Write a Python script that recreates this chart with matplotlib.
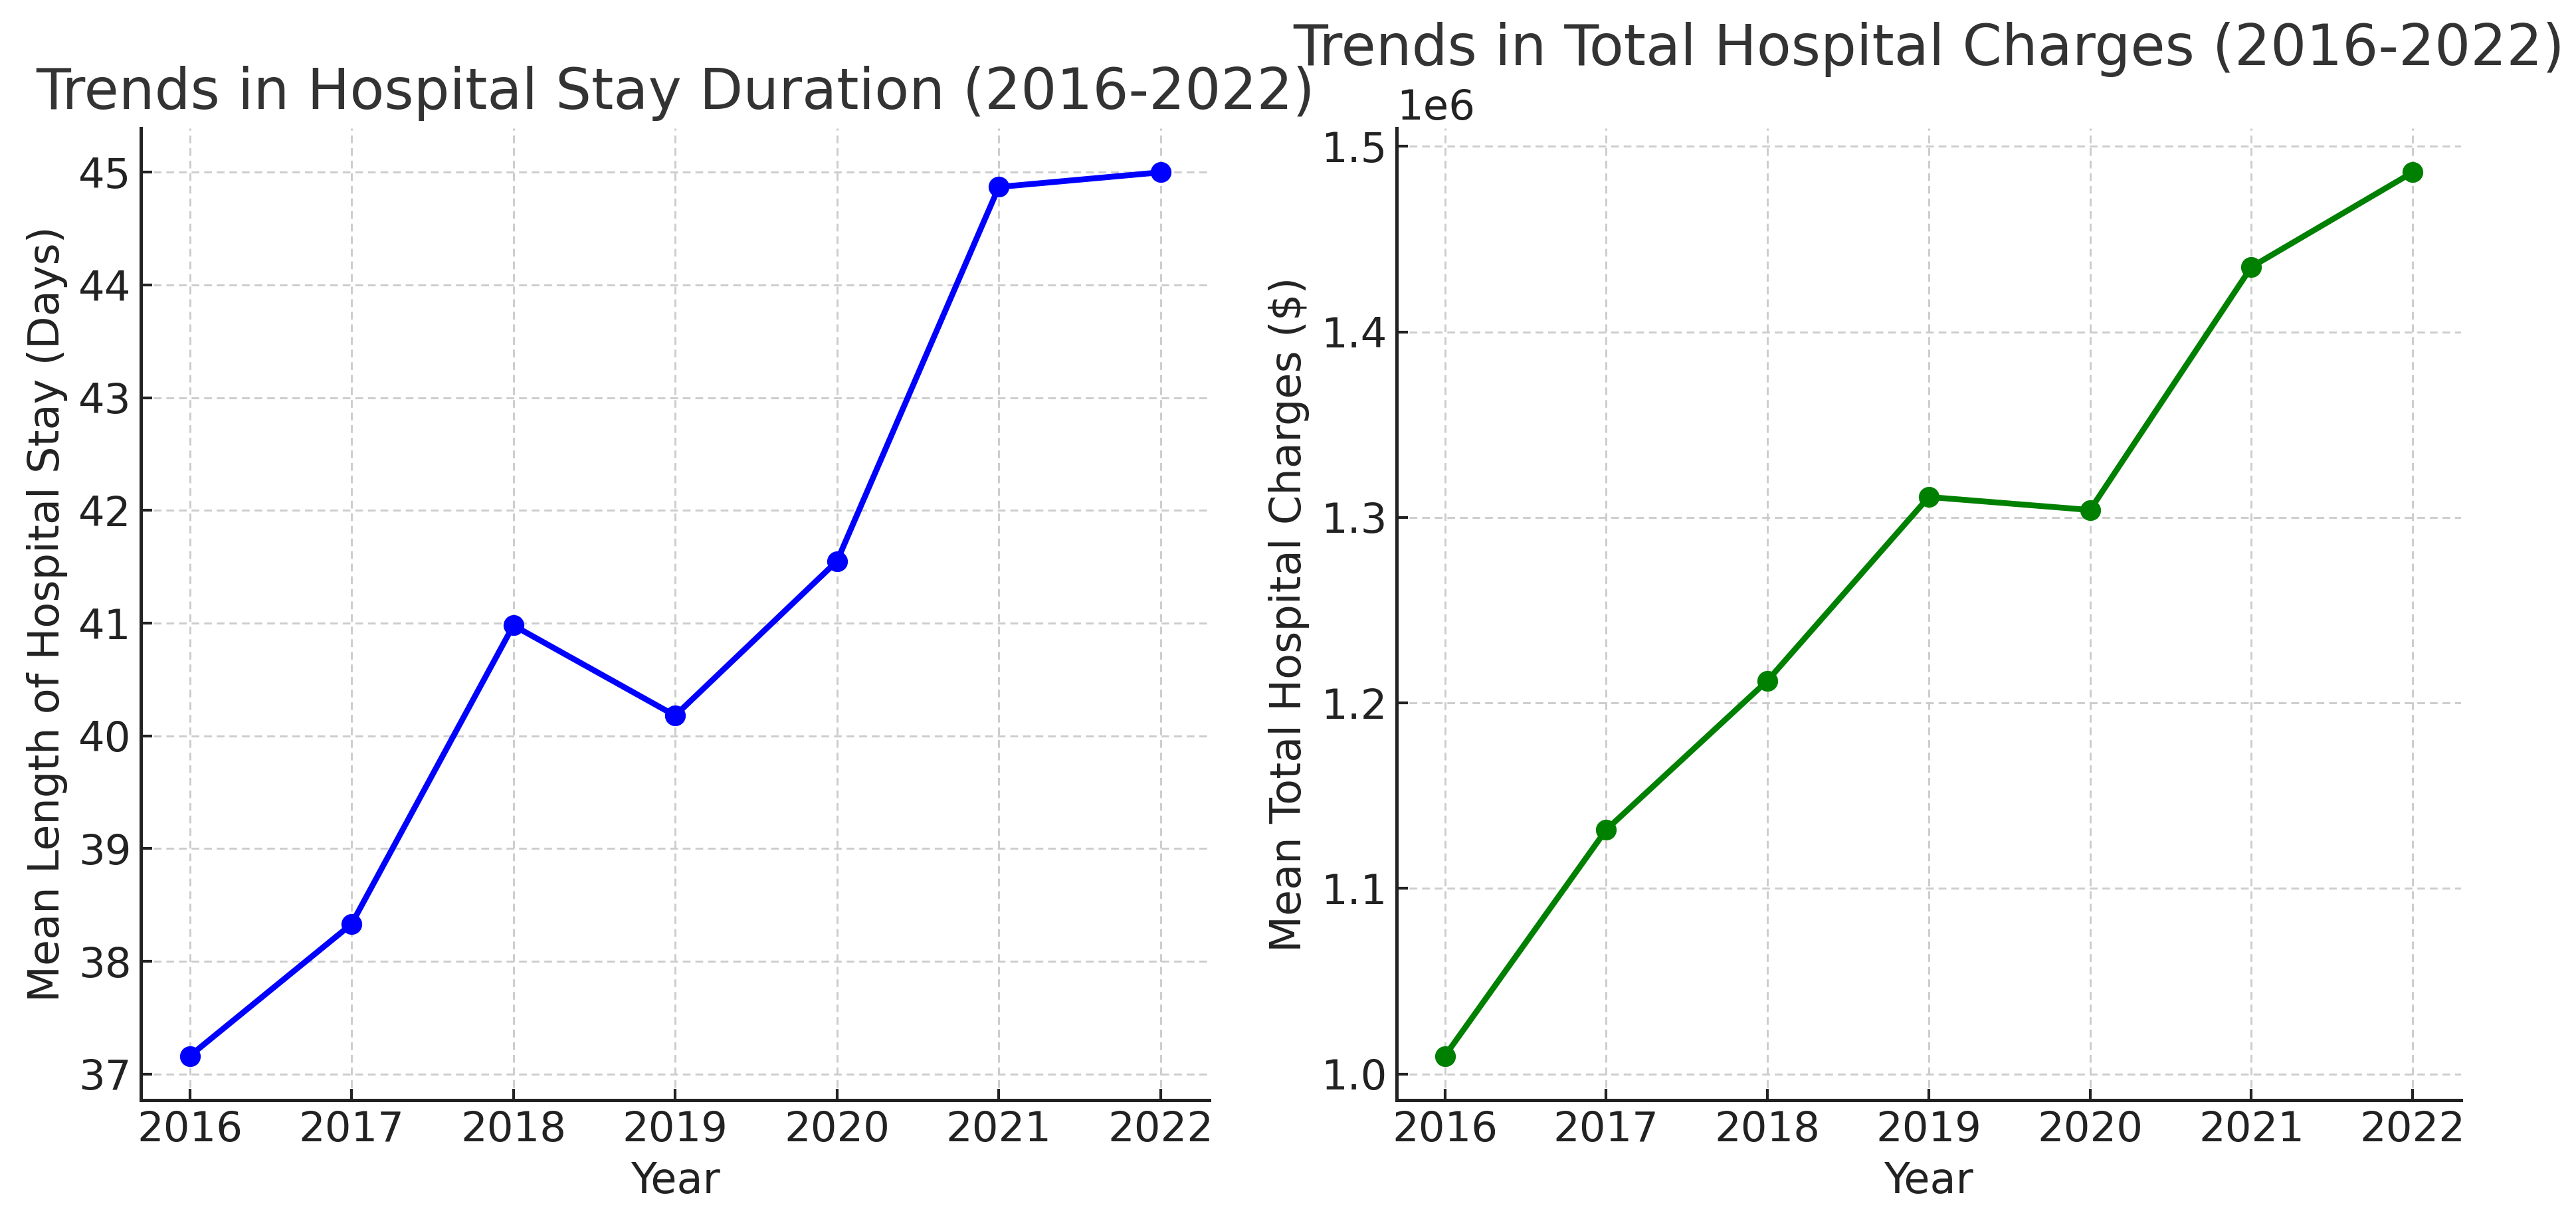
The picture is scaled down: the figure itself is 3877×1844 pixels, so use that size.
import matplotlib.pyplot as plt

# data
years = [2016, 2017, 2018, 2019, 2020, 2021, 2022]
mean_stay_days = [37.16, 38.33, 40.98, 40.18, 41.55, 44.87, 45.0]
mean_charges = [1.0097e6, 1.1316e6, 1.212e6, 1.311e6, 1.304e6, 1.435e6, 1.486e6]

plt.rcParams['font.family'] = 'DejaVu Sans'
plt.rcParams['text.color'] = '#333333'
plt.rcParams['axes.labelcolor'] = '#222222'
plt.rcParams['xtick.color'] = '#222222'
plt.rcParams['ytick.color'] = '#222222'

fig = plt.figure(figsize=(3877 / 300, 1844 / 300), dpi=300)
ax1 = fig.add_axes([0.0548, 0.1019, 0.4146, 0.7935])
ax2 = fig.add_axes([0.5421, 0.1019, 0.4133, 0.7935])


def style_axes(ax):
    ax.spines['top'].set_visible(False)
    ax.spines['right'].set_visible(False)
    for s in ['left', 'bottom']:
        ax.spines[s].set_linewidth(1.2)
        ax.spines[s].set_color('#222222')
    ax.grid(True, color='#cccccc', linewidth=0.7, linestyle=(0, (4, 2.5)))
    ax.set_axisbelow(True)
    ax.tick_params(direction='in', length=4, width=1, labelsize=15)
    ax.set_xticks(years)
    ax.yaxis.get_offset_text().set_fontsize(15)


# Left: hospital stay duration
ax1.plot(years, mean_stay_days, marker='o', color='blue', linewidth=2.1, markersize=6.5)
ax1.set_title('Trends in Hospital Stay Duration (2016-2022)', fontsize=20.4,
              color='#333333', y=1.0, pad=7)
ax1.set_xlabel('Year', fontsize=15.3)
ax1.set_ylabel('Mean Length of Hospital Stay (Days)', fontsize=15.3)
style_axes(ax1)

# Right: total hospital charges (title sits above the 1e6 offset text)
ax2.plot(years, mean_charges, marker='o', color='green', linewidth=2.1, markersize=6.5)
ax2.set_title('Trends in Total Hospital Charges (2016-2022)', fontsize=20.4,
              color='#333333', y=1.0, pad=22.8)
ax2.set_xlabel('Year', fontsize=15.3)
ax2.set_ylabel('Mean Total Hospital Charges ($)', fontsize=15.3)
style_axes(ax2)

fig.savefig('out.png', dpi=300)
